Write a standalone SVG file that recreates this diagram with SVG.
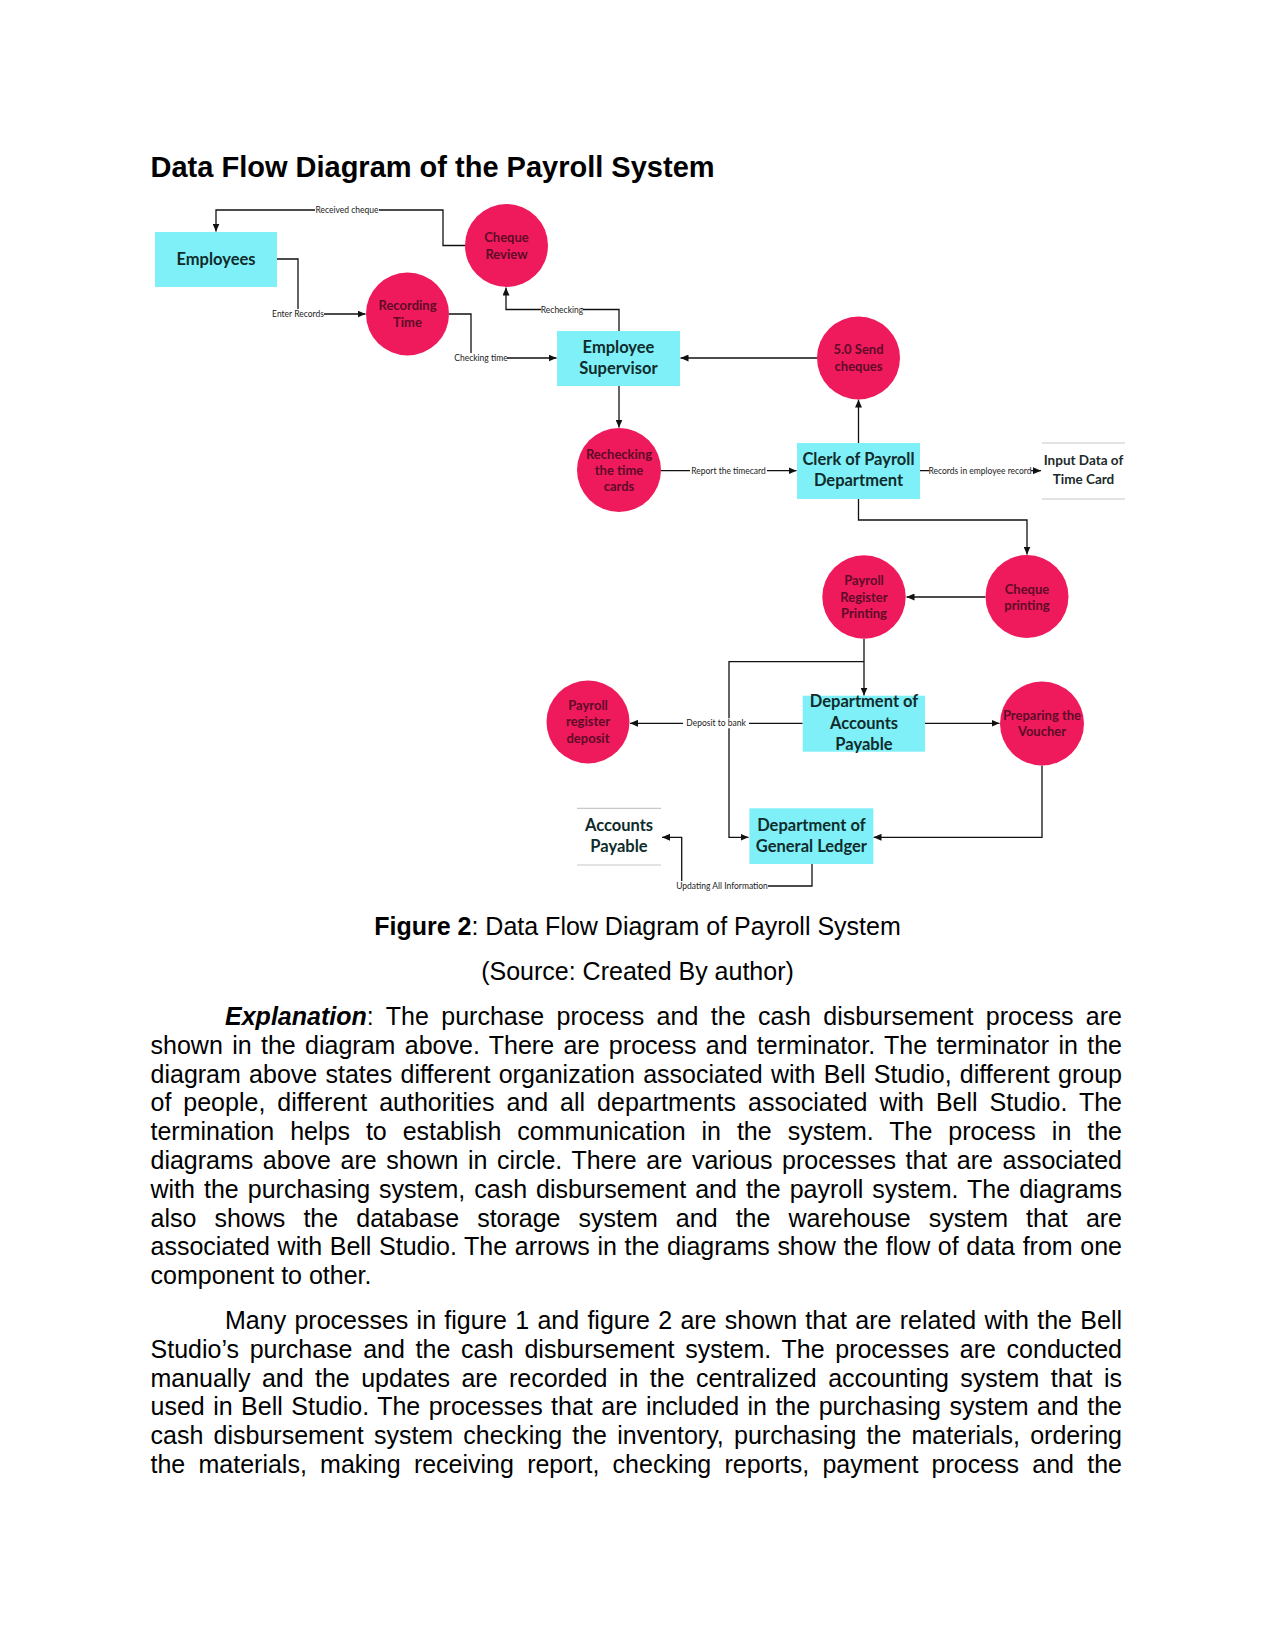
<svg xmlns="http://www.w3.org/2000/svg" width="1275" height="1651" viewBox="0 0 1275 1651">
<style>
.bg{fill:#ffffff}
.title{font-family:"Liberation Sans",Arial,sans-serif;font-weight:bold;font-size:29px;fill:#000}
.body{font-family:"Liberation Sans",Arial,sans-serif;font-size:25px;fill:#000}
.cap{font-family:"Liberation Sans",Arial,sans-serif;font-size:25px;fill:#000;text-anchor:middle}
.term{fill:#80f0f8}
.proc{fill:#ee1a5c}
.tt{font-family:Lato,"Open Sans",sans-serif;font-weight:bold;font-size:16.5px;fill:#0f2c2c;text-anchor:middle}
.pt{font-family:Lato,"Open Sans",sans-serif;font-weight:bold;font-size:13px;fill:#5e0a28;text-anchor:middle}
.st{font-family:Lato,"Open Sans",sans-serif;font-weight:bold;font-size:13.5px;fill:#1c2a2a;text-anchor:middle}
.storeline{stroke:#c8c8c8;stroke-width:1.2;fill:none}
.conn path{fill:none;stroke:#111;stroke-width:1.3;marker-end:url(#arr)}
.lbl{font-family:Lato,"Open Sans",sans-serif;font-size:8.5px;fill:#222;text-anchor:middle}
.lblbg{fill:#fff}
</style>
<defs>
<marker id="arr" markerUnits="userSpaceOnUse" markerWidth="8" markerHeight="7" refX="8" refY="3.5" orient="auto">
<path d="M0,0 L8,3.5 L0,7 z" fill="#111"/>
</marker>
</defs>
<rect class="bg" x="0" y="0" width="1275" height="1651"/>
<text class="title" x="150.5" y="177">Data Flow Diagram of the Payroll System</text>

<g id="connectors" class="conn">
<path d="M465,245.5 H443 V210 H216 V231.5"/>
<path d="M277,259 H298 V314 H365.5"/>
<path d="M449,314 H471 V358 H556.5"/>
<path d="M619,331 V309.5 H506 V287.5"/>
<path d="M817,358 H680.5"/>
<path d="M619,386 V427.5"/>
<path d="M661,470.7 H796.5"/>
<path d="M858.5,443 V399.5"/>
<path d="M920,470.7 H1041"/>
<path d="M858.5,499 V520 H1027 V554.5"/>
<path d="M985.5,597 H906.5"/>
<path d="M864,639 V695.5"/>
<path d="M864,661.7 H729 V837.3 H748.5"/>
<path d="M802.7,723.3 H630"/>
<path d="M925,723.3 H999.5"/>
<path d="M1042,765.5 V837.3 H873.5"/>
<path d="M812,864 V886 H681.7 V837.3 H662"/>
<g id="labels">
<rect class="lblbg" x="315" y="205" width="64" height="10"/>
<text class="lbl" x="347" y="213">Received cheque</text>
<rect class="lblbg" x="272" y="309" width="52" height="10"/>
<text class="lbl" x="298" y="317">Enter Records</text>
<rect class="lblbg" x="455" y="353" width="52" height="10"/>
<text class="lbl" x="481" y="361">Checking time</text>
<rect class="lblbg" x="541" y="304.5" width="42" height="10"/>
<text class="lbl" x="562" y="312.5">Rechecking</text>
<rect class="lblbg" x="690" y="465.7" width="77" height="10"/>
<text class="lbl" x="728.5" y="473.7">Report the timecard</text>
<rect class="lblbg" x="929" y="465.7" width="102" height="10"/>
<text class="lbl" x="980" y="473.7">Records in employee record</text>
<rect class="lblbg" x="683" y="718.3" width="66" height="10"/>
<text class="lbl" x="716" y="726.3">Deposit to bank</text>
<rect class="lblbg" x="676" y="881" width="92" height="10"/>
<text class="lbl" x="722" y="889">Updating All Information</text>
</g>
</g>

<g id="employees">
<rect class="term" x="155" y="232" width="122" height="55"/>
<text class="tt" x="216" y="265">Employees</text>
</g>
<g id="cheque-review">
<circle class="proc" cx="506.5" cy="245.5" r="41.5"/>
<text class="pt" x="506.5" y="242">Cheque</text>
<text class="pt" x="506.5" y="258.5">Review</text>
</g>
<g id="recording-time">
<circle class="proc" cx="407.5" cy="314" r="41.5"/>
<text class="pt" x="407.5" y="309.5">Recording</text>
<text class="pt" x="407.5" y="326.5">Time</text>
</g>
<g id="employee-supervisor">
<rect class="term" x="557" y="331" width="123" height="55"/>
<text class="tt" x="618.5" y="352.5">Employee</text>
<text class="tt" x="618.5" y="374">Supervisor</text>
</g>
<g id="send-cheques">
<circle class="proc" cx="858.5" cy="358" r="41.5"/>
<text class="pt" x="858.5" y="353.5">5.0 Send</text>
<text class="pt" x="858.5" y="370.5">cheques</text>
</g>
<g id="rechecking-time-cards">
<circle class="proc" cx="619" cy="470" r="42"/>
<text class="pt" x="619" y="458.5">Rechecking</text>
<text class="pt" x="619" y="474.5">the time</text>
<text class="pt" x="619" y="490.5">cards</text>
</g>
<g id="clerk-payroll">
<rect class="term" x="797" y="443" width="123" height="56"/>
<text class="tt" x="858.5" y="465">Clerk of Payroll</text>
<text class="tt" x="858.5" y="486">Department</text>
</g>
<g id="input-data-time-card">
<line class="storeline" x1="1042" y1="443" x2="1125" y2="443"/>
<line class="storeline" x1="1042" y1="499" x2="1125" y2="499"/>
<text class="st" x="1083.5" y="465">Input Data of</text>
<text class="st" x="1083.5" y="484">Time Card</text>
</g>
<g id="cheque-printing">
<circle class="proc" cx="1027" cy="596.5" r="41.5"/>
<text class="pt" x="1027" y="593.5">Cheque</text>
<text class="pt" x="1027" y="609.5">printing</text>
</g>
<g id="payroll-register-printing">
<circle class="proc" cx="864" cy="597" r="41.7"/>
<text class="pt" x="864" y="584.5">Payroll</text>
<text class="pt" x="864" y="601.5">Register</text>
<text class="pt" x="864" y="617.5">Printing</text>
</g>
<g id="dept-accounts-payable">
<rect class="term" x="802.7" y="695.7" width="122.3" height="56"/>
<text class="tt" x="864" y="706.5">Department of</text>
<text class="tt" x="864" y="729">Accounts</text>
<text class="tt" x="864" y="750">Payable</text>
</g>
<g id="payroll-register-deposit">
<circle class="proc" cx="588" cy="722" r="41.5"/>
<text class="pt" x="588" y="709.5">Payroll</text>
<text class="pt" x="588" y="726">register</text>
<text class="pt" x="588" y="742.5">deposit</text>
</g>
<g id="preparing-voucher">
<circle class="proc" cx="1042" cy="723.5" r="42"/>
<text class="pt" x="1042" y="719.5">Preparing the</text>
<text class="pt" x="1042" y="736">Voucher</text>
</g>
<g id="dept-general-ledger">
<rect class="term" x="749.4" y="808.3" width="124" height="55.7"/>
<text class="tt" x="811.4" y="830.5">Department of</text>
<text class="tt" x="811.4" y="851.5">General Ledger</text>
</g>
<g id="accounts-payable-store">
<line class="storeline" x1="577" y1="808.3" x2="661" y2="808.3"/>
<line class="storeline" x1="577" y1="865" x2="661" y2="865"/>
<text class="tt" x="619" y="830.5">Accounts</text>
<text class="tt" x="619" y="851.5">Payable</text>
</g>

<text class="cap" x="637.5" y="935"><tspan font-weight="bold">Figure 2</tspan>: Data Flow Diagram of Payroll System</text>
<text class="cap" x="637.5" y="980">(Source: Created By author)</text>

<g id="paragraph1" class="body">
<text x="225" y="1025" word-spacing="5.5" textLength="897" lengthAdjust="spacing"><tspan font-weight="bold" font-style="italic">Explanation</tspan>: The purchase process and the cash disbursement process are</text>
<text x="150.5" y="1053.8" word-spacing="2.3" textLength="971.5" lengthAdjust="spacing">shown in the diagram above. There are process and terminator. The terminator in the</text>
<text x="150.5" y="1082.6" word-spacing="1.3" textLength="971.5" lengthAdjust="spacing">diagram above states different organization associated with Bell Studio, different group</text>
<text x="150.5" y="1111.4" word-spacing="5" textLength="971.5" lengthAdjust="spacing">of people, different authorities and all departments associated with Bell Studio. The</text>
<text x="150.5" y="1140.2" word-spacing="9" textLength="971.5" lengthAdjust="spacing">termination helps to establish communication in the system. The process in the</text>
<text x="150.5" y="1169" word-spacing="2.6" textLength="971.5" lengthAdjust="spacing">diagrams above are shown in circle. There are various processes that are associated</text>
<text x="150.5" y="1197.8" word-spacing="2.1" textLength="971.5" lengthAdjust="spacing">with the purchasing system, cash disbursement and the payroll system. The diagrams</text>
<text x="150.5" y="1226.6" word-spacing="11.2" textLength="971.5" lengthAdjust="spacing">also shows the database storage system and the warehouse system that are</text>
<text x="150.5" y="1255.4" word-spacing="0.7" textLength="971.5" lengthAdjust="spacing">associated with Bell Studio. The arrows in the diagrams show the flow of data from one</text>
<text x="150.5" y="1284.2">component to other.</text>
</g>
<g id="paragraph2" class="body">
<text x="225" y="1329" word-spacing="1.35" textLength="897" lengthAdjust="spacing">Many processes in figure 1 and figure 2 are shown that are related with the Bell</text>
<text x="150.5" y="1357.8" word-spacing="3.7" textLength="971.5" lengthAdjust="spacing">Studio’s purchase and the cash disbursement system. The processes are conducted</text>
<text x="150.5" y="1386.6" word-spacing="4.5" textLength="971.5" lengthAdjust="spacing">manually and the updates are recorded in the centralized accounting system that is</text>
<text x="150.5" y="1415.4" word-spacing="1.5" textLength="971.5" lengthAdjust="spacing">used in Bell Studio. The processes that are included in the purchasing system and the</text>
<text x="150.5" y="1444.2" word-spacing="3.2" textLength="971.5" lengthAdjust="spacing">cash disbursement system checking the inventory, purchasing the materials, ordering</text>
<text x="150.5" y="1473" word-spacing="6.3" textLength="971.5" lengthAdjust="spacing">the materials, making receiving report, checking reports, payment process and the</text>
</g>
</svg>
